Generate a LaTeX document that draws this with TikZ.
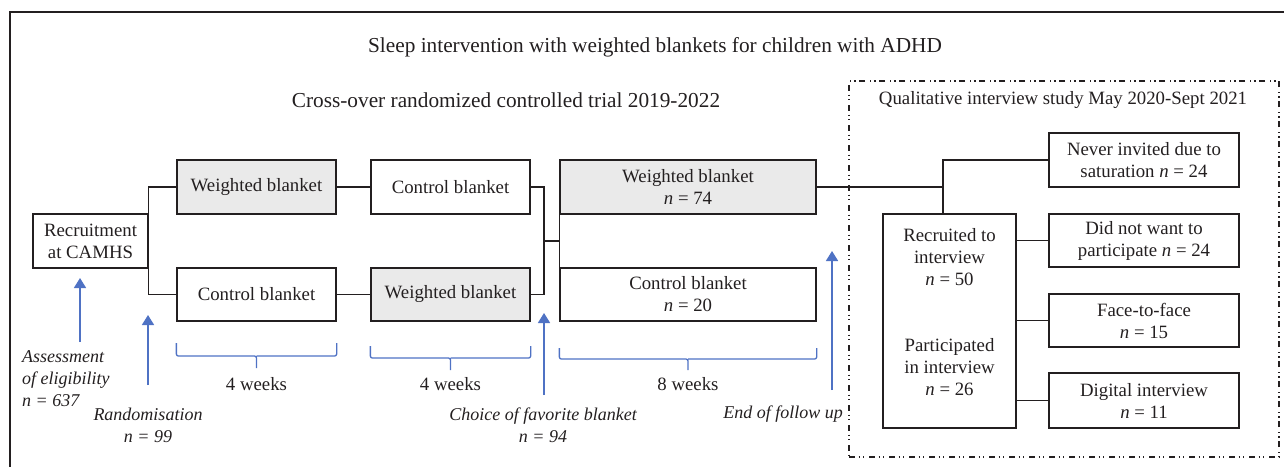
\documentclass[tikz,border=0pt]{standalone}
\usepackage{fontspec}
\setmainfont{Liberation Serif}
\usetikzlibrary{arrows.meta}
\definecolor{bl}{RGB}{79,114,196}
\definecolor{gr}{RGB}{234,234,234}
\definecolor{ln}{RGB}{35,31,32}
\newcommand\nvar{\textit{n}}
\begin{document}
\begin{tikzpicture}[x=1pt,y=-1pt,
  font=\fontsize{18.8}{22}\selectfont,
  box/.style={draw=ln, line width=1.3pt, align=center, inner sep=0pt, text=ln},
  gbox/.style={box, fill=gr},
  conn/.style={draw=ln, line width=1.3pt},
  arr/.style={draw=bl, line width=1.6pt, -{Triangle[width=12pt,length=10pt]}, color=bl},
  brace/.style={draw=bl, line width=1.3pt, rounded corners=2pt},
  lab/.style={font=\fontsize{18}{22}\selectfont\itshape, text=ln, inner sep=0pt},
  plain/.style={text=ln, inner sep=0pt},
  head/.style={plain, font=\fontsize{21.3}{24}\selectfont},
  dashbox/.style={draw=ln, line width=1.2pt, dash pattern=on 6pt off 3.5pt on 1.2pt off 3.5pt on 1.2pt off 4.6pt, inner sep=0pt}
]
\useasboundingbox (0,0) rectangle (1284,466);
% outer frame (top and left visible)
\draw[line width=2pt, draw=ln] (10,480) -- (10,12) -- (1300,12);

% titles
\node[head] (title) at (655,47) {Sleep intervention with weighted blankets for children with ADHD};
\node[head] (sub) at (506,100) {Cross-over randomized controlled trial 2019-2022};
\node[dashbox, minimum width=430pt, minimum height=376pt] (qbox) at (1064,269) {};
\node[plain] (qual) at (1063,100) {Qualitative interview study May 2020-Sept 2021};

% trial boxes
\node[box, minimum width=115pt, minimum height=54pt] (rec) at (90.5,241) {Recruitment\\at CAMHS};
\node[gbox, minimum width=159pt, minimum height=54pt] (wb1) at (256.5,187) {Weighted blanket};
\node[box, minimum width=159pt, minimum height=54pt] (cb2) at (450.5,187) {Control blanket};
\node[box, minimum width=159pt, minimum height=53pt] (cb1) at (256.5,294.5) {Control blanket};
\node[gbox, minimum width=159pt, minimum height=53pt] (wb2) at (450.5,294.5) {Weighted blanket};
\node[gbox, minimum width=256pt, minimum height=54pt] (wb74) at (688,187) {Weighted blanket\\\nvar{} = 74};
\node[box, minimum width=256pt, minimum height=53pt] (cb20) at (688,294.5) {Control blanket\\\nvar{} = 20};

% interview boxes
\node[box, minimum width=190pt, minimum height=54pt] (never) at (1144,160) {Never invited due to\\saturation \nvar{} = 24};
\node[box, minimum width=190pt, minimum height=53pt] (did) at (1144,240.5) {Did not want to\\participate \nvar{} = 24};
\node[box, minimum width=190pt, minimum height=53pt] (face) at (1144,320.5) {Face-to-face\\\nvar{} = 15};
\node[box, minimum width=190pt, minimum height=55pt] (digi) at (1144,400.5) {Digital interview\\\nvar{} = 11};
\node[box, line width=2.2pt, minimum width=133pt, minimum height=214pt] (recr) at (949.5,321) {};
\node[plain, align=center] (recrA) at (949.5,257) {Recruited to\\interview\\\nvar{} = 50};
\node[plain, align=center] (recrB) at (949.5,367) {Participated\\in interview\\\nvar{} = 26};

% connectors
\draw[conn] (wb1.west) -| (rec.east);
\draw[conn] (cb1.west) -| (rec.east);
\draw[conn] (wb1) -- (cb2);
\draw[conn] (cb1) -- (wb2);
\coordinate (j1) at (544,241);
\draw[conn] (cb2.east) -| (j1) |- (wb2.east);
\draw[conn] (j1) -- (j1 -| wb74.west);
\draw[conn] (wb74.south west) -- (cb20.north west);
\coordinate (j2) at (943,187);
\draw[conn] (wb74.east) -- (j2);
\draw[conn] (never.west) -| (j2) -- (j2 |- recr.north);
\draw[conn] (recr.east |- did.west) -- (did.west);
\draw[conn] (recr.east |- face.west) -- (face.west);
\draw[conn] (recr.east |- digi.west) -- (digi.west);

% braces
\draw[brace] (wb1.west |- 0,343) -- (wb1.west |- 0,356) -- (256.5,356) -- (256.5,368)
  (256.5,356) -- (wb1.east |- 0,356) -- (wb1.east |- 0,343);
\draw[brace] (wb2.west |- 0,346) -- (wb2.west |- 0,358) -- (450.5,358) -- (450.5,370)
  (450.5,358) -- (wb2.east |- 0,358) -- (wb2.east |- 0,346);
\draw[brace] (cb20.west |- 0,348) -- (cb20.west |- 0,359) -- (688,359) -- (688,370)
  (688,359) -- (cb20.east |- 0,359) -- (cb20.east |- 0,348);
\node[plain] (w1) at (256.5,384) {4 weeks};
\node[plain] (w2) at (450.5,384) {4 weeks};
\node[plain] (w3) at (688,384) {8 weeks};

% blue arrows
\coordinate (a1b) at (80,342); \coordinate (a1t) at (80,278);
\coordinate (a2b) at (148,385); \coordinate (a2t) at (148,315);
\coordinate (a3b) at (544,395); \coordinate (a3t) at (544,313);
\coordinate (a4b) at (832,390); \coordinate (a4t) at (832,251);
\draw[arr] (a1b) -- (a1t);
\draw[arr] (a2b) -- (a2t);
\draw[arr] (a3b) -- (a3t);
\draw[arr] (a4b) -- (a4t);

% labels
\node[lab, align=left, anchor=west] (l1) at (22,379) {Assessment\\of eligibility\\\textit{n} = 637};
\node[lab, align=center] (l2) at (148,425) {Randomisation\\\textit{n} = 99};
\node[lab, align=center] (l3) at (543,425) {Choice of favorite blanket\\\textit{n} = 94};
\node[lab, anchor=east] (l4) at (843,414) {End of follow up};
\end{tikzpicture}
\end{document}
